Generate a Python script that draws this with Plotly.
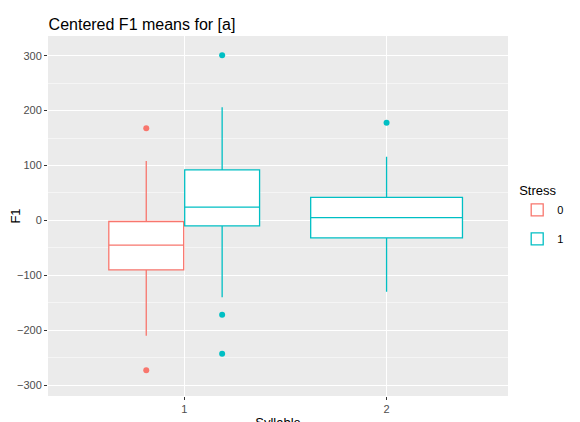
import plotly.graph_objs as go

# box statistics
stress = ["0", "1", "1"]
syllable_pos = [0.8125, 1.1875, 2.0]
box_width = [0.37, 0.37, 0.75]
q1 = [-90, -10, -32]
median = [-45, 24, 5]
q3 = [-2, 92, 42]
lower = [-210, -140, -130]
upper = [108, 206, 116]
outliers = [[168, -273], [301, -172, -243], [178]]

colors = {"0": "#F8766D", "1": "#00BFC4"}

fig = go.Figure()
shown = set()
for i in range(len(stress)):
    s = stress[i]
    fig.add_trace(go.Box(
        x=[syllable_pos[i]], q1=[q1[i]], median=[median[i]], q3=[q3[i]],
        lowerfence=[lower[i]], upperfence=[upper[i]], width=box_width[i],
        boxpoints=False, name=s, legendgroup=s, showlegend=s not in shown,
        line=dict(color=colors[s], width=1.3), fillcolor="white",
        whiskerwidth=0,
    ))
    shown.add(s)
    fig.add_trace(go.Scatter(
        x=[syllable_pos[i]] * len(outliers[i]), y=outliers[i], mode="markers",
        marker=dict(color=colors[s], size=6), showlegend=False, hoverinfo="y",
    ))

fig.update_layout(
    width=580, height=422,
    margin=dict(l=40, r=80, t=28, b=34),
    paper_bgcolor="white", plot_bgcolor="#EBEBEB",
    font=dict(family="Liberation Sans, Arial", color="#4D4D4D", size=11),
    title=dict(text="Centered F1 means for [a]", x=0.07, xanchor="left", y=0.975,
               font=dict(size=16, color="black")),
    legend=dict(title=dict(text="Stress", font=dict(size=13, color="black")),
                x=1.02, y=0.5, yanchor="middle", font=dict(size=11, color="black")),
    xaxis=dict(range=[0.327, 2.6], tickvals=[1, 2], ticktext=["1", "2"],
               showgrid=True, gridcolor="white", gridwidth=1.2, zeroline=False,
               ticks="outside", ticklen=3, tickcolor="#333", automargin=False,
               title=dict(text="Syllable", font=dict(size=13, color="black"), standoff=4)),
    yaxis=dict(range=[-320, 336], tickvals=[-300, -200, -100, 0, 100, 200, 300],
               showgrid=True, gridcolor="white", gridwidth=1.2, zeroline=False,
               minor=dict(tickvals=[-250, -150, -50, 50, 150, 250], showgrid=True,
                          gridcolor="#F5F5F5", gridwidth=0.6),
               ticks="outside", ticklen=3, tickcolor="#333", automargin=False,
               title=dict(text="F1", font=dict(size=13, color="black"), standoff=4)),
)

fig.write_html("out.html")
